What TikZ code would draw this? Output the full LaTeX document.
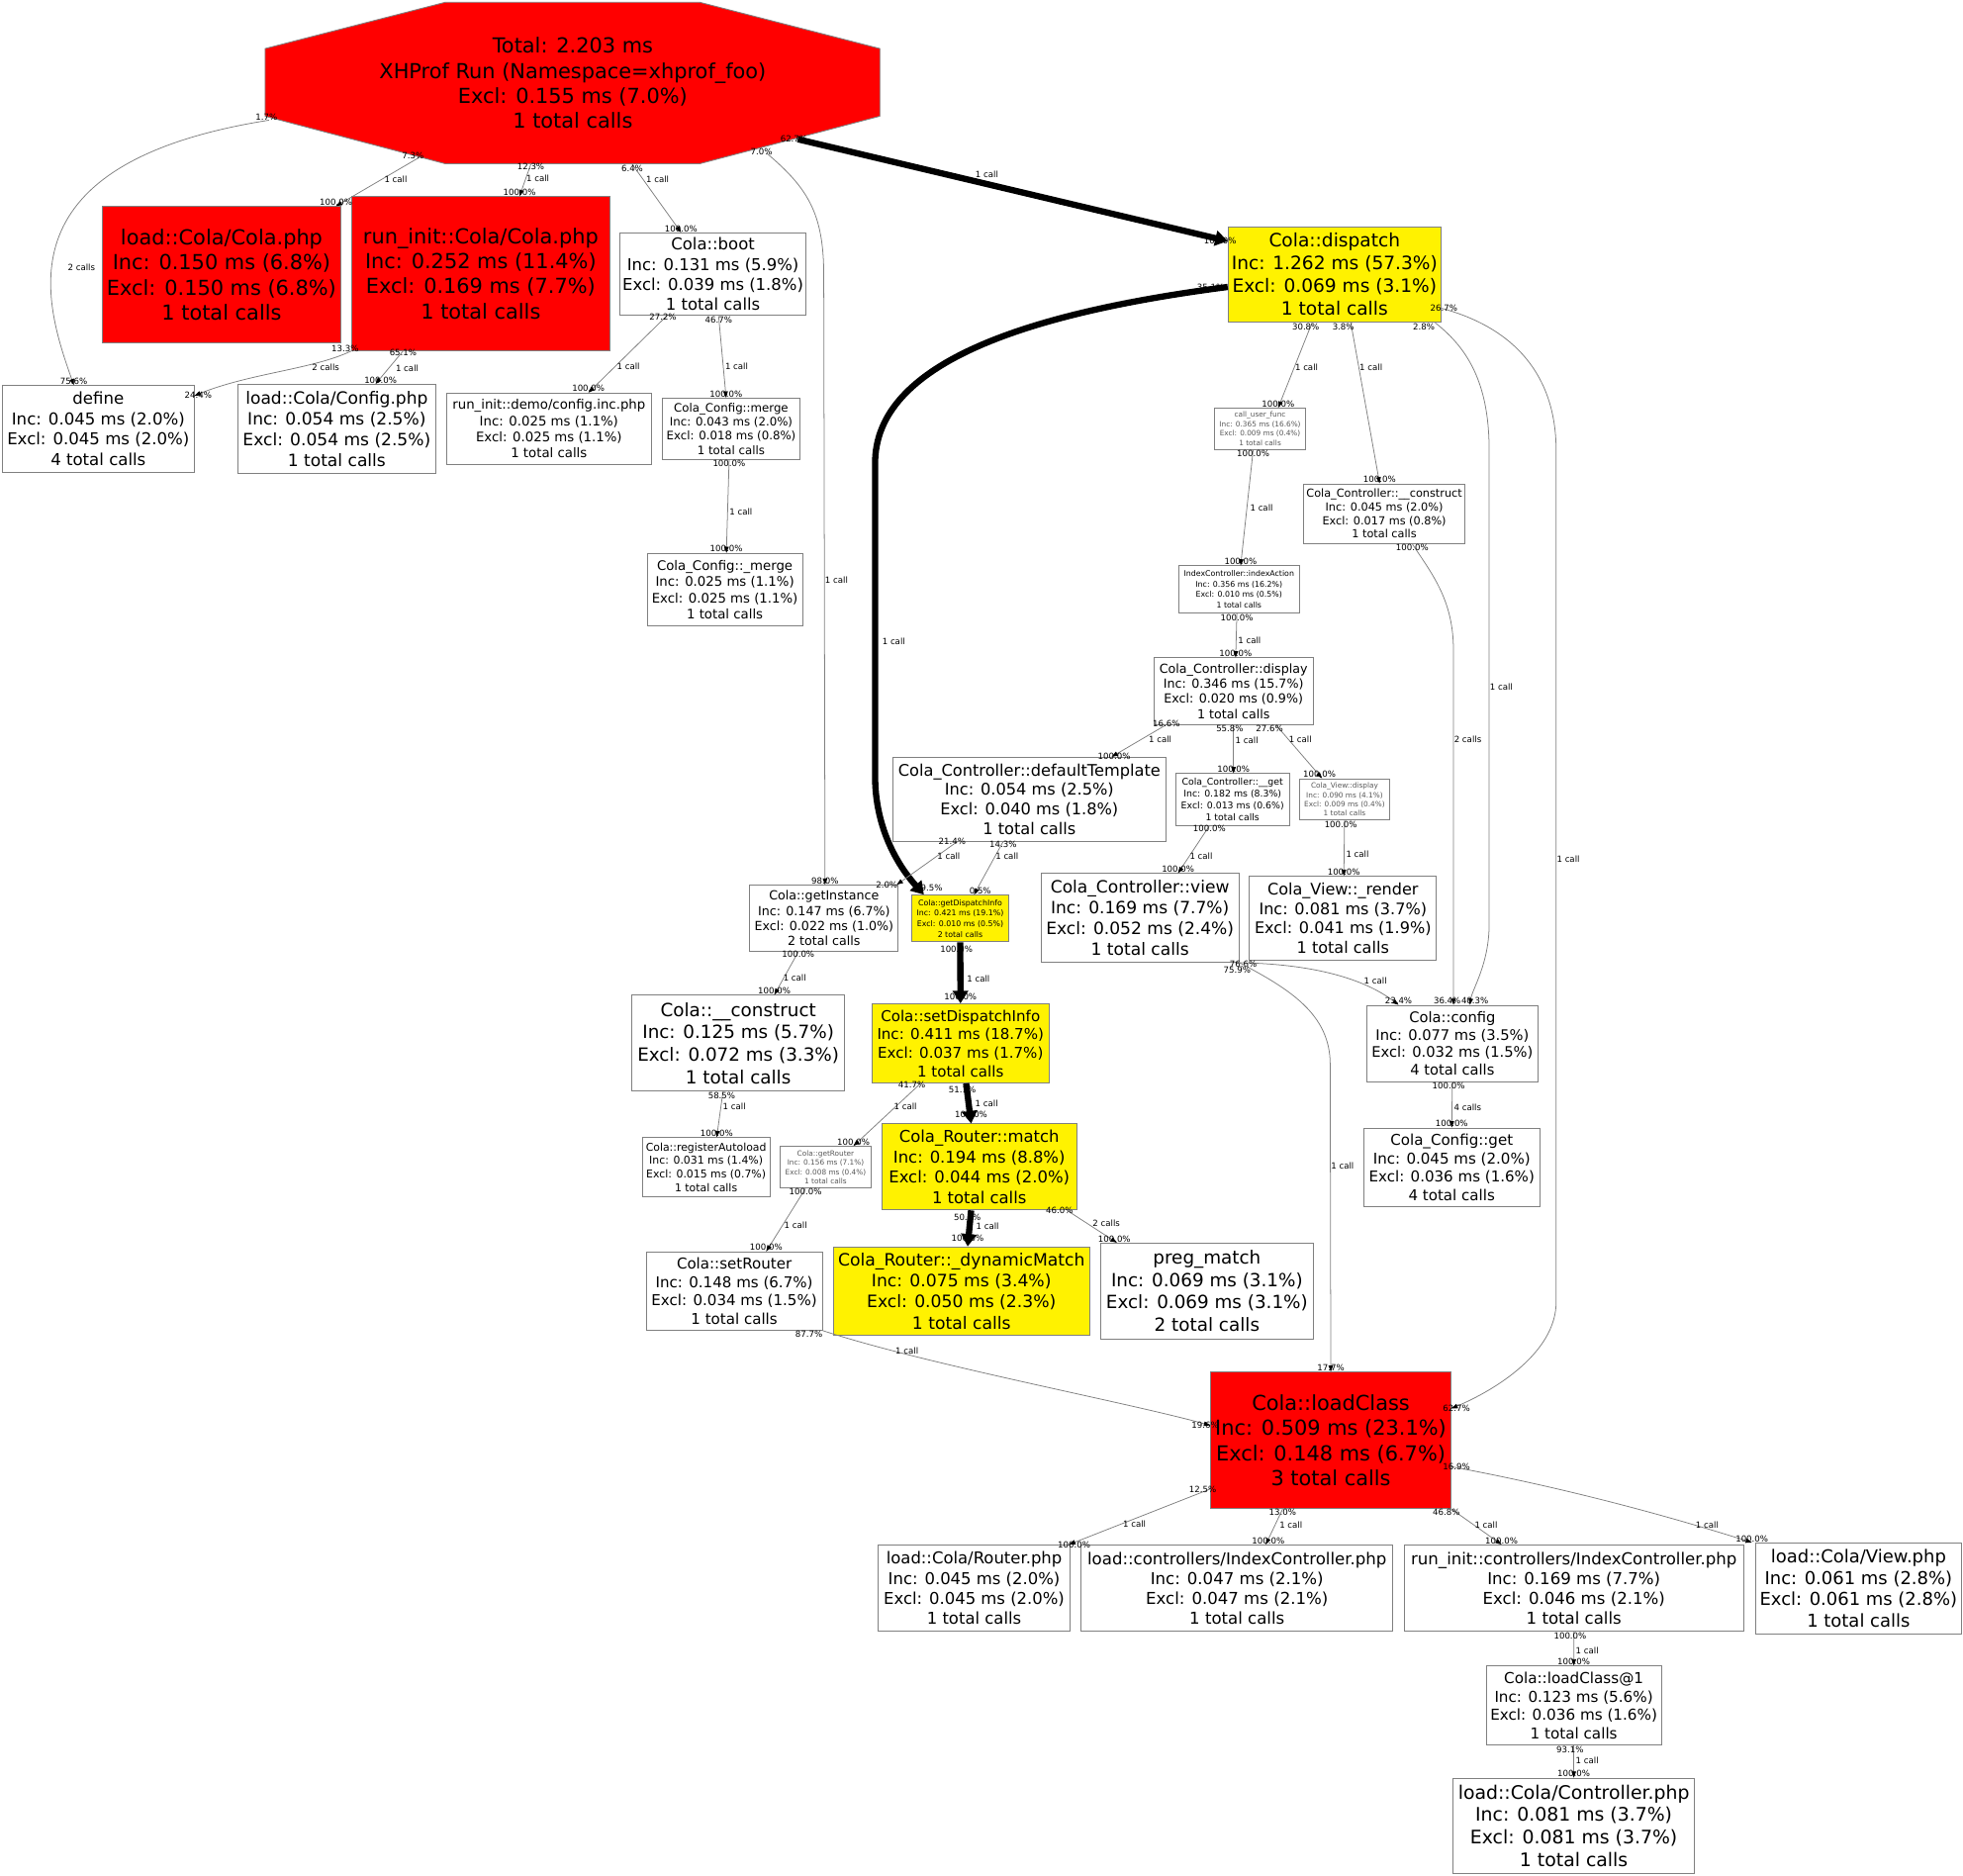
\documentclass[tikz,border=0pt]{standalone}
\usepackage{fontspec}
\setmainfont{DejaVu Sans}
\usetikzlibrary{arrows.meta, calc, backgrounds}

\begin{document}
\begin{tikzpicture}[x=1pt, y=-1pt,
  fnbox/.style={draw=gray, line width=0.7pt, fill=white, inner sep=0pt, align=center},
  hotbox/.style={fnbox, fill=red},
  critbox/.style={fnbox, fill=yellow},
  faint/.style={text=black!65},
  sz/.style 2 args={font=\fontsize{#1}{#2}\selectfont},
  dims/.style 2 args={minimum width=#1pt, minimum height=#2pt},
  lbl/.style={font=\fontsize{6.8}{8}\selectfont, inner sep=0.3pt},
  calledge/.style={draw=gray, line width=0.6pt, -{Triangle[length=5pt, width=3.6pt, color=black]}},
  hotedge/.style={draw=black, line width=5pt, -{Triangle[length=10pt, width=12pt]}}]

\useasboundingbox (0,0) rectangle (1568,1498);

% Run summary
\node[sz={16.5}{20}, dims={491}{129}, inner sep=0pt, align=center] (main) at (457.5,66.5) {Total: 2.203 ms\\XHProf Run (Namespace=xhprof\_foo)\\Excl: 0.155 ms (7.0\%)\\1 total calls};

\begin{scope}[on background layer]
\fill[white] (0,0) rectangle (1568,1498);
\filldraw[fill=red, draw=gray, line width=0.7pt] (main.north west) ++(144,0) -- ++(203,0) -- ++(144,37) -- ++(0,54) -- ++(-144,38) -- ++(-203,0) -- ++(-144,-38) -- ++(0,-54) -- cycle;
\end{scope}

% Bootstrap
\node[hotbox, sz={16.5}{20}, dims={190}{109}] (ldcola) at (177,219.5) {load::Cola/Cola.php\\Inc: 0.150 ms (6.8\%)\\Excl: 0.150 ms (6.8\%)\\1 total calls};
\node[hotbox, sz={16.5}{20}, dims={206}{123}] (ricola) at (384,218.5) {run\_init::Cola/Cola.php\\Inc: 0.252 ms (11.4\%)\\Excl: 0.169 ms (7.7\%)\\1 total calls};
\node[fnbox, sz={13}{16}, dims={149}{66}] (boot) at (569.5,219) {Cola::boot\\Inc: 0.131 ms (5.9\%)\\Excl: 0.039 ms (1.8\%)\\1 total calls};
\node[fnbox, sz={13.1}{16.3}, dims={153}{69}] (define) at (78.5,342.5) {define\\Inc: 0.045 ms (2.0\%)\\Excl: 0.045 ms (2.0\%)\\4 total calls};
\node[fnbox, sz={13.5}{16.5}, dims={158}{71}] (ldconfig) at (269,342.5) {load::Cola/Config.php\\Inc: 0.054 ms (2.5\%)\\Excl: 0.054 ms (2.5\%)\\1 total calls};
\node[fnbox, sz={10.5}{13}, dims={163}{57}] (ridemo) at (438.5,342.5) {run\_init::demo/config.inc.php\\Inc: 0.025 ms (1.1\%)\\Excl: 0.025 ms (1.1\%)\\1 total calls};
\node[fnbox, sz={9.3}{11.2}, dims={110}{49}] (cfgmerge) at (584,342.5) {Cola\_Config::merge\\Inc: 0.043 ms (2.0\%)\\Excl: 0.018 ms (0.8\%)\\1 total calls};
\node[fnbox, sz={10.5}{13}, dims={124}{58}] (cfgmergeb) at (579,471) {Cola\_Config::\_merge\\Inc: 0.025 ms (1.1\%)\\Excl: 0.025 ms (1.1\%)\\1 total calls};

% Dispatch and controller
\node[critbox, sz={14.7}{18.2}, dims={170}{76.5}] (dispatch) at (1066,219.2) {Cola::dispatch\\Inc: 1.262 ms (57.3\%)\\Excl: 0.069 ms (3.1\%)\\1 total calls};
\node[fnbox, faint, sz={5.8}{7.6}, dims={73}{33}] (cuf) at (1006.5,342.5) {call\_user\_func\\Inc: 0.365 ms (16.6\%)\\Excl: 0.009 ms (0.4\%)\\1 total calls};
\node[fnbox, sz={8.9}{10.7}, dims={128.5}{47.5}] (ctrlcons) at (1105.7,410.2) {Cola\_Controller::\_\_construct\\Inc: 0.045 ms (2.0\%)\\Excl: 0.017 ms (0.8\%)\\1 total calls};
\node[fnbox, sz={6.2}{8.3}, dims={96.5}{37.6}] (indexact) at (989.7,470.8) {IndexController::indexAction\\Inc: 0.356 ms (16.2\%)\\Excl: 0.010 ms (0.5\%)\\1 total calls};
\node[fnbox, sz={10}{12.2}, dims={127.4}{53}] (display) at (985.3,552) {Cola\_Controller::display\\Inc: 0.346 ms (15.7\%)\\Excl: 0.020 ms (0.9\%)\\1 total calls};
\node[fnbox, sz={12.8}{15.7}, dims={217.5}{67.2}] (deftpl) at (822.2,638.4) {Cola\_Controller::defaultTemplate\\Inc: 0.054 ms (2.5\%)\\Excl: 0.040 ms (1.8\%)\\1 total calls};
\node[fnbox, sz={7.4}{9.3}, dims={91}{41.3}] (ctrlget) at (984.5,638.6) {Cola\_Controller::\_\_get\\Inc: 0.182 ms (8.3\%)\\Excl: 0.013 ms (0.6\%)\\1 total calls};
\node[fnbox, faint, sz={5.8}{7.3}, dims={72}{33}] (viewdisp) at (1074,638.5) {Cola\_View::display\\Inc: 0.090 ms (4.1\%)\\Excl: 0.009 ms (0.4\%)\\1 total calls};
\node[fnbox, sz={10}{12.2}, dims={118.5}{53}] (getinst) at (658.2,733.5) {Cola::getInstance\\Inc: 0.147 ms (6.7\%)\\Excl: 0.022 ms (1.0\%)\\2 total calls};
\node[critbox, sz={6.2}{8.4}, dims={78}{37.3}] (getdisp) at (767,733.6) {Cola::getDispatchInfo\\Inc: 0.421 ms (19.1\%)\\Excl: 0.010 ms (0.5\%)\\2 total calls};
\node[fnbox, sz={13.5}{16.6}, dims={158.3}{70.8}] (ctrlview) at (910.6,733.2) {Cola\_Controller::view\\Inc: 0.169 ms (7.7\%)\\Excl: 0.052 ms (2.4\%)\\1 total calls};
\node[fnbox, sz={12.7}{15.7}, dims={149.5}{66.8}] (render) at (1072.7,733.4) {Cola\_View::\_render\\Inc: 0.081 ms (3.7\%)\\Excl: 0.041 ms (1.9\%)\\1 total calls};

% Router
\node[fnbox, sz={14.5}{18}, dims={170}{76.7}] (colacons) at (589.7,833.3) {Cola::\_\_construct\\Inc: 0.125 ms (5.7\%)\\Excl: 0.072 ms (3.3\%)\\1 total calls};
\node[critbox, sz={11.9}{14.8}, dims={141}{63.2}] (setdisp) at (767.2,833.4) {Cola::setDispatchInfo\\Inc: 0.411 ms (18.7\%)\\Excl: 0.037 ms (1.7\%)\\1 total calls};
\node[fnbox, sz={8.6}{10.7}, dims={102}{47.4}] (regauto) at (564,932.3) {Cola::registerAutoload\\Inc: 0.031 ms (1.4\%)\\Excl: 0.015 ms (0.7\%)\\1 total calls};
\node[fnbox, faint, sz={5.8}{7.4}, dims={72}{33.3}] (getrouter) at (659.5,932.3) {Cola::getRouter\\Inc: 0.156 ms (7.1\%)\\Excl: 0.008 ms (0.4\%)\\1 total calls};
\node[critbox, sz={13}{16.2}, dims={155.6}{68.7}] (match) at (782.2,932.1) {Cola\_Router::match\\Inc: 0.194 ms (8.8\%)\\Excl: 0.044 ms (2.0\%)\\1 total calls};
\node[fnbox, sz={11.9}{14.8}, dims={140.6}{62.5}] (setrouter) at (586.5,1031.2) {Cola::setRouter\\Inc: 0.148 ms (6.7\%)\\Excl: 0.034 ms (1.5\%)\\1 total calls};
\node[critbox, sz={13.6}{16.7}, dims={204.7}{70.6}] (dynmatch) at (768,1031.3) {Cola\_Router::\_dynamicMatch\\Inc: 0.075 ms (3.4\%)\\Excl: 0.050 ms (2.3\%)\\1 total calls};
\node[fnbox, sz={14.5}{17.9}, dims={169.3}{76.4}] (pregmatch) at (964.1,1031.1) {preg\_match\\Inc: 0.069 ms (3.1\%)\\Excl: 0.069 ms (3.1\%)\\2 total calls};

% Config
\node[fnbox, sz={11.6}{14.1}, dims={136.2}{60.8}] (config) at (1160.1,833.4) {Cola::config\\Inc: 0.077 ms (3.5\%)\\Excl: 0.032 ms (1.5\%)\\4 total calls};
\node[fnbox, sz={11.9}{14.8}, dims={140.4}{62.9}] (cfgget) at (1159.6,932.4) {Cola\_Config::get\\Inc: 0.045 ms (2.0\%)\\Excl: 0.036 ms (1.6\%)\\4 total calls};

% Autoloading
\node[hotbox, sz={16.5}{20}, dims={192}{109}] (loadclass) at (1063,1150.5) {Cola::loadClass\\Inc: 0.509 ms (23.1\%)\\Excl: 0.148 ms (6.7\%)\\3 total calls};
\node[fnbox, sz={13}{15.9}, dims={153}{68.8}] (ldrouter) at (778.1,1268.4) {load::Cola/Router.php\\Inc: 0.045 ms (2.0\%)\\Excl: 0.045 ms (2.0\%)\\1 total calls};
\node[fnbox, sz={13.1}{15.9}, dims={249}{69}] (ldidx) at (988.1,1268.5) {load::controllers/IndexController.php\\Inc: 0.047 ms (2.1\%)\\Excl: 0.047 ms (2.1\%)\\1 total calls};
\node[fnbox, sz={13.1}{15.9}, dims={270.8}{69}] (riidx) at (1257.2,1268.5) {run\_init::controllers/IndexController.php\\Inc: 0.169 ms (7.7\%)\\Excl: 0.046 ms (2.1\%)\\1 total calls};
\node[fnbox, sz={14.2}{17}, dims={164.5}{72.6}] (ldview) at (1484.5,1268.7) {load::Cola/View.php\\Inc: 0.061 ms (2.8\%)\\Excl: 0.061 ms (2.8\%)\\1 total calls};
\node[fnbox, sz={12}{14.7}, dims={139.7}{63.3}] (loadclassa) at (1257.1,1362.3) {Cola::loadClass@1\\Inc: 0.123 ms (5.6\%)\\Excl: 0.036 ms (1.6\%)\\1 total calls};
\node[fnbox, sz={14.9}{18.1}, dims={193.2}{76.2}] (ldctrl) at (1257.1,1458.4) {load::Cola/Controller.php\\Inc: 0.081 ms (3.7\%)\\Excl: 0.081 ms (3.7\%)\\1 total calls};

% Arrows - calls from the run
\draw[calledge] ($(main.west)+(3,29.5)$) .. controls (0,130) and (35,240) .. ([xshift=-19.5pt]define.north)
  node[lbl, at start, above=-1pt, xshift=-2pt] {1.7\%}
  node[lbl, pos=0.6, right=12pt] {2 calls}
  node[lbl, at end, above] {75.6\%};
\draw[calledge] ($(main.south west)+(124,-6)$) -- node[lbl, at start, xshift=-6pt, yshift=1pt] {7.3\%} node[lbl, pos=0.45, right=1pt] {1 call} node[lbl, at end, above] {100.0\%} ([xshift=-4pt]ldcola.north east);
\draw[calledge] ([xshift=-33.5pt]main.south) -- node[lbl, at start, yshift=-2pt] {12.3\%} node[lbl, pos=0.45, right=0pt] {1 call} node[lbl, at end, above] {100.0\%} ([xshift=31pt]ricola.north);
\draw[calledge] ([xshift=47.5pt]main.south) -- node[lbl, at start, below=0pt] {6.4\%} node[lbl, pos=0.22, right=2pt] {1 call} node[lbl, at end, above] {100.0\%} ([xshift=-25.5pt]boot.north);
\draw[calledge] ($(main.south east)+(-91,-9)$) .. controls (645,150) and (658,170) .. (658,220)
  node[lbl, at start, xshift=-4pt, yshift=1pt] {7.0\%}
  -- ([xshift=0.8pt]getinst.north)
  node[lbl, midway, right] {1 call}
  node[lbl, at end, above] {98.0\%};
\draw[hotedge] ($(main.south east)+(-66,-20)$) -- node[lbl, at start, xshift=-3pt] {62.7\%} node[lbl, pos=0.44, above=2pt] {1 call} node[lbl, at end, xshift=-6pt] {100.0\%} ($(dispatch.north west)+(0,12)$);

% Arrows - bootstrap
\draw[calledge] (ricola.south west) .. controls (250,295) and (200,298) .. ($(define.east)+(0,-26.5)$)
  node[lbl, at start, xshift=-5pt, yshift=2pt] {13.3\%}
  node[lbl, pos=0.2, below=2pt] {2 calls}
  node[lbl, at end, xshift=3pt] {24.4\%};
\draw[calledge] ([xshift=-62pt]ricola.south) -- node[lbl, at start, below=-1.5pt] {65.1\%} node[lbl, pos=0.52, right=5pt] {1 call} node[lbl, at end, above, xshift=4pt] {100.0\%} ([xshift=31pt]ldconfig.north);
\draw[calledge] ([xshift=-37pt]boot.south) -- node[lbl, at start, xshift=-3pt, yshift=-1pt] {27.2\%} node[lbl, pos=0.66, right=1pt] {1 call} node[lbl, at end, above] {100.0\%} ([xshift=31.5pt]ridemo.north);
\draw[calledge] ([xshift=4.5pt]boot.south) -- node[lbl, at start, below] {46.7\%} node[lbl, pos=0.62, right=1pt] {1 call} node[lbl, at end, above] {100.0\%} ([xshift=-4pt]cfgmerge.north);
\draw[calledge] ([xshift=-1.6pt]cfgmerge.south) -- node[lbl, at start, below] {100.0\%} node[lbl, pos=0.56, right=1pt] {1 call} node[lbl, at end, above] {100.0\%} ([xshift=1.2pt]cfgmergeb.north);

% Arrows - dispatch
\draw[hotedge] ($(dispatch.west)+(0,10)$) .. controls (820,250) and (699,290) .. (699,370)
  node[lbl, at start, anchor=east] {35.1\%}
  -- (699,620) node[lbl, pos=0.57, right=3pt] {1 call}
  .. controls (699,660) and (716,690) .. ([xshift=-29pt]getdisp.north)
  node[lbl, at end, above, xshift=4pt] {99.5\%};
\draw[calledge] ([xshift=-18pt]dispatch.south) -- node[lbl, at start, below, xshift=-5pt] {30.8\%} node[lbl, pos=0.52, right=0pt] {1 call} node[lbl, at end, above] {100.0\%} ([xshift=14.5pt]cuf.north);
\draw[calledge] ([xshift=13pt]dispatch.south) -- node[lbl, at start, below, xshift=-6pt] {3.8\%} node[lbl, pos=0.28, right=0pt] {1 call} node[lbl, at end, above] {100.0\%} ([xshift=-3.7pt]ctrlcons.north);
\draw[calledge] ([xshift=-5pt]dispatch.south east) .. controls (1175,280) and (1189.5,310) .. (1189.5,360)
  node[lbl, at start, below, xshift=-9pt] {2.8\%}
  -- (1189.5,738) node[lbl, pos=0.5, right] {1 call}
  .. controls (1189.5,770) and (1176,790) .. ([xshift=14pt]config.north)
  node[lbl, at end, above, xshift=4pt] {40.3\%};
\draw[calledge] ($(dispatch.east)+(0,27)$) .. controls (1210,262) and (1243,300) .. (1243,360)
  node[lbl, at start, xshift=2pt] {26.7\%}
  -- (1243,1040) node[lbl, pos=0.48, right] {1 call}
  .. controls (1243,1080) and (1195,1110) .. ($(loadclass.east)+(0,-25.5)$)
  node[lbl, at end, xshift=4pt] {62.7\%};
\draw[calledge] ([xshift=-5.5pt]cuf.south) -- node[lbl, at start, below] {100.0\%} node[lbl, pos=0.5, right=2pt] {1 call} node[lbl, at end, above] {100.0\%} ([xshift=1.3pt]indexact.north);
\draw[calledge] ([xshift=-1.7pt]indexact.south) -- node[lbl, at start, below] {100.0\%} node[lbl, pos=0.62, right=1pt] {1 call} node[lbl, at end, above] {100.0\%} ([xshift=1.7pt]display.north);
\draw[calledge] ([xshift=22.3pt]ctrlcons.south) .. controls (1145,460) and (1161,480) .. (1161,520)
  node[lbl, at start, below] {100.0\%}
  -- ([xshift=0.9pt]config.north) node[lbl, pos=0.25, right] {2 calls}
  node[lbl, at end, above, xshift=-5pt] {36.4\%};

% Arrows - controller display
\draw[calledge] ([xshift=10.4pt]display.south west) -- node[lbl, at start, yshift=1pt] {16.6\%} node[lbl, pos=0.45, right=5pt] {1 call} node[lbl, at end, xshift=2pt] {100.0\%} ([xshift=65.8pt]deftpl.north);
\draw[calledge] (display.south) -- node[lbl, at start, below, xshift=-3pt] {55.8\%} node[lbl, pos=0.33, right=1pt] {1 call} node[lbl, at end, above] {100.0\%} ([xshift=0.8pt]ctrlget.north);
\draw[calledge] ([xshift=33.7pt]display.south) -- node[lbl, at start, below, xshift=-5pt] {27.6\%} node[lbl, pos=0.27, right=0pt] {1 call} node[lbl, at end, above, xshift=-2pt] {100.0\%} ([xshift=-18pt]viewdisp.north);
\draw[calledge] ([xshift=-57.7pt]deftpl.south) -- node[lbl, at start, xshift=-4pt] {21.4\%} node[lbl, pos=0.34, right=0pt] {1 call} node[lbl, at end, xshift=-8pt] {2.0\%} ([xshift=-1.5pt]getinst.north east);
\draw[calledge] ([xshift=-21pt]deftpl.south) -- node[lbl, at start, yshift=-2pt] {14.3\%} node[lbl, pos=0.28, right=0pt] {1 call} node[lbl, at end, above, xshift=5pt] {0.5\%} ([xshift=11pt]getdisp.north);
\draw[calledge] ([xshift=-18.5pt]ctrlget.south) -- node[lbl, at start, yshift=-2pt] {100.0\%} node[lbl, pos=0.65, right=0pt] {1 call} node[lbl, at end, above] {100.0\%} ([xshift=30.4pt]ctrlview.north);
\draw[calledge] (viewdisp.south) -- node[lbl, at start, below, xshift=-3pt] {100.0\%} node[lbl, pos=0.6, right=1pt] {1 call} node[lbl, at end, above] {100.0\%} ([xshift=0.7pt]render.north);
\draw[calledge] (ctrlview.south east) .. controls (1050,770) and (1090,782) .. ([xshift=-43pt]config.north)
  node[lbl, at start, xshift=3pt, yshift=-1.5pt] {76.6\%}
  node[lbl, pos=0.7, above right=0pt] {1 call}
  node[lbl, at end, above] {23.4\%};
\draw[calledge] (ctrlview.south east) .. controls (1030,790) and (1062.5,810) .. (1062.5,850)
  node[lbl, at start, xshift=-2pt, yshift=-6pt] {75.9\%}
  -- (loadclass.north) node[lbl, pos=0.33, right] {1 call}
  node[lbl, at end, above] {17.7\%};
\draw[calledge] (config.south) -- node[lbl, at start, below, xshift=-3pt] {100.0\%} node[lbl, pos=0.55, right=1pt] {4 calls} node[lbl, at end, above] {100.0\%} (cfgget.north);

% Arrows - dispatch info and router
\draw[calledge] ([xshift=-20.6pt]getinst.south) -- node[lbl, at start, yshift=-2pt] {100.0\%} node[lbl, pos=0.6, right=-1pt] {1 call} node[lbl, at end, above] {100.0\%} ([xshift=28.8pt]colacons.north);
\draw[calledge] ([xshift=-12.2pt]colacons.south) -- node[lbl, at start, below, xshift=-1pt] {58.5\%} node[lbl, pos=0.33, right=1pt] {1 call} node[lbl, at end, above] {100.0\%} ([xshift=8.5pt]regauto.north);
\draw[hotedge] (getdisp.south) -- node[lbl, at start, below, xshift=-3pt] {100.0\%} node[lbl, pos=0.6, right=2.5pt] {1 call} node[lbl, at end, above] {100.0\%} (setdisp.north);
\draw[calledge] ([xshift=-31.8pt]setdisp.south) -- node[lbl, at start, xshift=-7pt, yshift=-1pt] {41.7\%} node[lbl, pos=0.37, right=-2pt] {1 call} node[lbl, at end, above] {100.0\%} ([xshift=22.2pt]getrouter.north);
\draw[hotedge] ([xshift=4.5pt]setdisp.south) -- node[lbl, at start, below, xshift=-3pt] {51.1\%} node[lbl, pos=0.5, right=2.5pt] {1 call} node[lbl, at end, above=2pt] {100.0\%} ([xshift=-6.5pt]match.north);
\draw[calledge] ([xshift=-16.1pt]getrouter.south) -- node[lbl, at start, below=-1pt] {100.0\%} node[lbl, pos=0.59, right=1pt] {1 call} node[lbl, at end, above] {100.0\%} ([xshift=25.5pt]setrouter.north);
\draw[hotedge] ([xshift=-6.5pt]match.south) -- node[lbl, at start, below, xshift=-3pt] {50.7\%} node[lbl, pos=0.45, right=2.5pt] {1 call} node[lbl, at end, above=1pt] {100.0\%} ([xshift=4.9pt]dynmatch.north);
\draw[calledge] ([xshift=-8pt]match.south east) -- node[lbl, at start, xshift=-6pt] {46.0\%} node[lbl, pos=0.4, right=4pt] {2 calls} node[lbl, at end, above, xshift=-2pt] {100.0\%} ([xshift=13pt]pregmatch.north west);
\draw[calledge] (setrouter.south east) .. controls (740,1090) and (900,1120) .. ($(loadclass.west)+(0,-12)$)
  node[lbl, at start, xshift=-11pt, yshift=-3pt] {87.7\%}
  node[lbl, pos=0.23, yshift=3pt] {1 call}
  node[lbl, at end, xshift=-4pt] {19.6\%};

% Arrows - class loading
\draw[calledge] ($(loadclass.south west)+(0,-16)$) -- node[lbl, at start, xshift=-6pt] {12.5\%} node[lbl, pos=0.64, right=2pt] {1 call} node[lbl, at end, xshift=4pt] {100.0\%} ([xshift=-1pt]ldrouter.north east);
\draw[calledge] ([xshift=-38.5pt]loadclass.south) -- node[lbl, at start, below=-1pt] {13.0\%} node[lbl, pos=0.45, right=3pt] {1 call} node[lbl, at end, above, xshift=2pt] {100.0\%} ([xshift=23pt]ldidx.north);
\draw[calledge] (loadclass.south east) -- node[lbl, at start, below=-1pt, xshift=-4pt] {46.8\%} node[lbl, pos=0.45, right=0pt] {1 call} node[lbl, at end, above] {100.0\%} ([xshift=-57.8pt]riidx.north);
\draw[calledge] ($(loadclass.east)+(0,21)$) .. controls (1240,1186.5) and (1320,1207) .. ([xshift=-2.5pt]ldview.north west)
  node[lbl, at start, xshift=4pt] {16.9\%}
  node[lbl, pos=0.85, above=0pt] {1 call}
  node[lbl, at end, above] {100.0\%};
\draw[calledge] (riidx.south) -- node[lbl, at start, below, xshift=-3pt] {100.0\%} node[lbl, pos=0.55, right=1pt] {1 call} node[lbl, at end, above] {100.0\%} (loadclassa.north);
\draw[calledge] (loadclassa.south) -- node[lbl, at start, below, xshift=-3pt] {93.1\%} node[lbl, pos=0.45, right=1pt] {1 call} node[lbl, at end, above] {100.0\%} (ldctrl.north);

\end{tikzpicture}
\end{document}
